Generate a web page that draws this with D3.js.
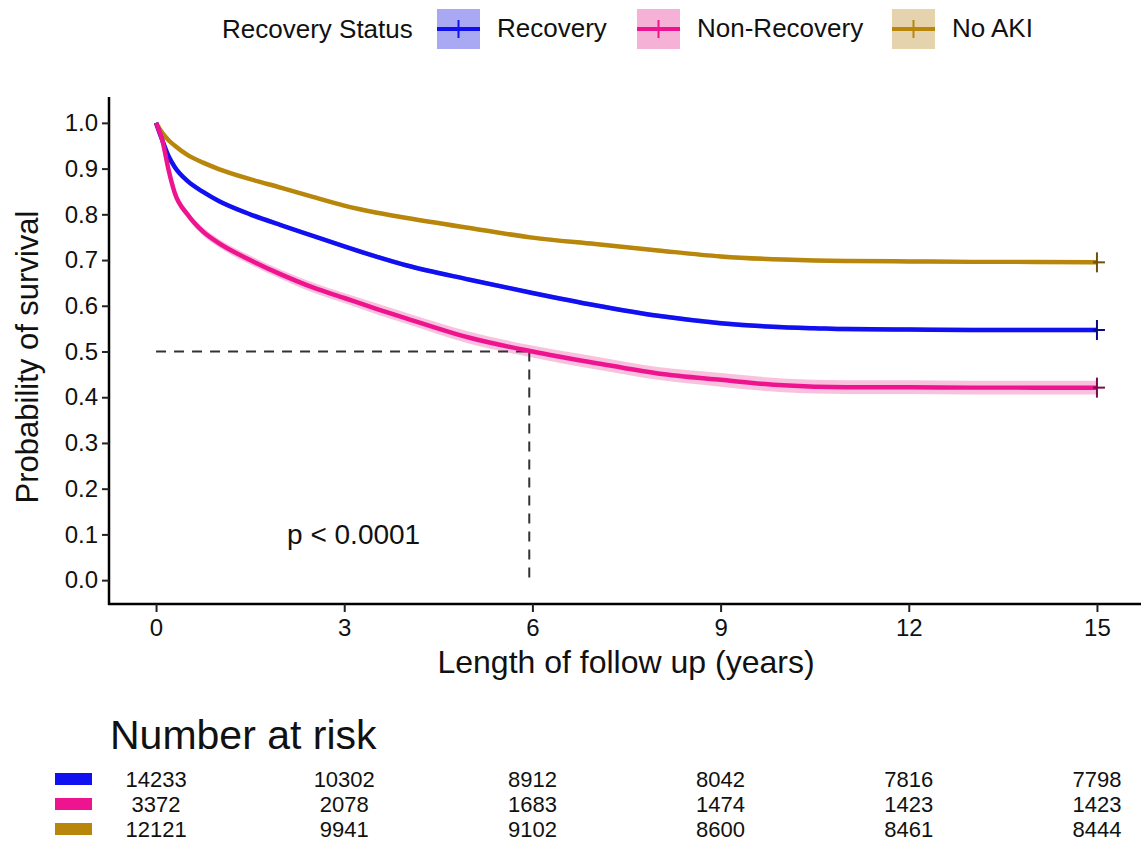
<!DOCTYPE html>
<html>
<head>
<meta charset="utf-8">
<script src="https://cdn.jsdelivr.net/npm/d3@7"></script>
<style>
  body { margin: 0; background: #fff; }
  text { font-family: "Liberation Sans", Arial, sans-serif; fill: #111; }
</style>
</head>
<body>
<script>
// follow-up times (years) and survival estimates
var times = [0, 0.1, 0.2, 0.3, 0.5, 0.75, 1, 1.5, 2, 2.5, 3, 3.5, 4, 5, 6, 7, 8, 9, 10, 10.5, 11, 12, 13, 14, 15];
var survRecovery    = [1.0, 0.962, 0.927, 0.903, 0.873, 0.849, 0.829, 0.800, 0.776, 0.753, 0.730, 0.708, 0.688, 0.657, 0.628, 0.601, 0.578, 0.562, 0.553, 0.551, 0.549, 0.548, 0.547, 0.547, 0.547];
var survNonRecovery = [1.0, 0.962, 0.897, 0.846, 0.800, 0.762, 0.737, 0.700, 0.668, 0.640, 0.617, 0.594, 0.572, 0.530, 0.500, 0.475, 0.452, 0.438, 0.426, 0.423, 0.422, 0.422, 0.421, 0.421, 0.421];
var survNoAKI       = [1.0, 0.978, 0.962, 0.950, 0.930, 0.913, 0.899, 0.877, 0.858, 0.838, 0.819, 0.804, 0.792, 0.770, 0.749, 0.735, 0.721, 0.708, 0.701, 0.699, 0.698, 0.697, 0.696, 0.696, 0.695];
// half width of the confidence bands
var ciRecovery    = [0, 0.002, 0.003, 0.003, 0.003, 0.004, 0.004, 0.004, 0.004, 0.004, 0.005, 0.005, 0.005, 0.005, 0.005, 0.005, 0.005, 0.005, 0.005, 0.005, 0.005, 0.005, 0.005, 0.005, 0.005];
var ciNonRecovery = [0, 0.004, 0.006, 0.007, 0.008, 0.009, 0.009, 0.010, 0.010, 0.011, 0.011, 0.012, 0.012, 0.013, 0.013, 0.014, 0.014, 0.015, 0.015, 0.015, 0.015, 0.015, 0.015, 0.015, 0.015];
var ciNoAKI       = [0, 0.002, 0.002, 0.003, 0.003, 0.003, 0.003, 0.003, 0.004, 0.004, 0.004, 0.004, 0.004, 0.004, 0.004, 0.004, 0.004, 0.004, 0.004, 0.004, 0.004, 0.004, 0.004, 0.004, 0.004];

var groups = ["Recovery", "Non-Recovery", "No AKI"];
var lineColors = ["#1010f0", "#ee1490", "#b8860b"];
var bandColors = ["#a9a9f3", "#f6b1d6", "#e4d3ac"];
var crossColors = ["#0a0a80", "#7a0a48", "#6e5208"];

var xTicks = [0, 3, 6, 9, 12, 15];
var yTicks = [0, 0.1, 0.2, 0.3, 0.4, 0.5, 0.6, 0.7, 0.8, 0.9, 1.0];

var riskTimes = [0, 3, 6, 9, 12, 15];
var riskRecovery    = [14233, 10302, 8912, 8042, 7816, 7798];
var riskNonRecovery = [3372, 2078, 1683, 1474, 1423, 1423];
var riskNoAKI       = [12121, 9941, 9102, 8600, 8461, 8444];

var medianTime = 5.95, medianSurv = 0.5;
var pText = "p < 0.0001";

var width = 1144, height = 867;

var svg = d3.select("body").append("svg")
    .attr("width", width)
    .attr("height", height);

var x = d3.scaleLinear().domain([-0.75, 15.75]).range([109, 1144]);
var y = d3.scaleLinear().domain([-0.05, 1.05]).range([603, 100]);

var series = [
    {name: groups[0], surv: survRecovery, ci: ciRecovery},
    {name: groups[1], surv: survNonRecovery, ci: ciNonRecovery},
    {name: groups[2], surv: survNoAKI, ci: ciNoAKI}
];

// confidence bands
var area = d3.area()
    .x(function (d) { return x(d.t); })
    .y0(function (d) { return y(d.s - d.c); })
    .y1(function (d) { return y(d.s + d.c); })
    .curve(d3.curveMonotoneX);

var line = d3.line()
    .x(function (d) { return x(d.t); })
    .y(function (d) { return y(d.s); })
    .curve(d3.curveMonotoneX);

series.forEach(function (s, i) {
    var pts = times.map(function (t, j) { return {t: t, s: s.surv[j], c: s.ci[j]}; });
    svg.append("path")
        .datum(pts)
        .attr("d", area)
        .attr("fill", bandColors[i])
        .attr("opacity", 0.8);
});

// median dashed lines
svg.append("line")
    .attr("x1", x(0)).attr("x2", x(medianTime))
    .attr("y1", y(medianSurv)).attr("y2", y(medianSurv))
    .attr("stroke", "#333").attr("stroke-width", 2).attr("stroke-dasharray", "10,8");
svg.append("line")
    .attr("x1", x(medianTime)).attr("x2", x(medianTime))
    .attr("y1", y(medianSurv)).attr("y2", y(0))
    .attr("stroke", "#333").attr("stroke-width", 2).attr("stroke-dasharray", "10,8");

// survival curves (gold first so blue/pink sit on top)
[2, 0, 1].forEach(function (i) {
    var s = series[i];
    var pts = times.map(function (t, j) { return {t: t, s: s.surv[j]}; });
    svg.append("path")
        .datum(pts)
        .attr("d", line)
        .attr("fill", "none")
        .attr("stroke", lineColors[i])
        .attr("stroke-width", 4.5);
    // censor mark at the last time
    var last = pts[pts.length - 1];
    svg.append("line")
        .attr("x1", x(last.t)).attr("x2", x(last.t))
        .attr("y1", y(last.s) - 10).attr("y2", y(last.s) + 10)
        .attr("stroke", crossColors[i]).attr("stroke-width", 2);
    svg.append("line")
        .attr("x1", x(last.t) - 4).attr("x2", x(last.t) + 8)
        .attr("y1", y(last.s)).attr("y2", y(last.s))
        .attr("stroke", crossColors[i]).attr("stroke-width", 2);
});

// axes
var yAxis = d3.axisLeft(y).tickValues(yTicks).tickFormat(d3.format(".1f"))
    .tickSize(7).tickSizeOuter(0).tickPadding(4);
var xAxis = d3.axisBottom(x).tickValues(xTicks).tickFormat(d3.format("d"))
    .tickSize(8).tickSizeOuter(0).tickPadding(7);

var gy = svg.append("g").attr("transform", "translate(109,0)").call(yAxis);
var gx = svg.append("g").attr("transform", "translate(0,604)").call(xAxis);

[gx, gy].forEach(function (g) {
    g.select(".domain").attr("stroke", "#000").attr("stroke-width", 2.5);
    g.selectAll(".tick line").attr("stroke", "#222").attr("stroke-width", 2);
    g.selectAll(".tick text")
        .style("font-family", "'Liberation Sans', Arial, sans-serif")
        .style("font-size", "24px")
        .attr("fill", "#222");
});
gy.select(".domain").attr("d", "M0,97V605");
gx.select(".domain").attr("d", "M108,0H1141");

// axis titles
svg.append("text")
    .attr("transform", "translate(38,357) rotate(-90)")
    .attr("text-anchor", "middle")
    .style("font-size", "31px")
    .text("Probability of survival");

svg.append("text")
    .attr("x", 626).attr("y", 673)
    .attr("text-anchor", "middle")
    .style("font-size", "32px")
    .text("Length of follow up (years)");

// p-value
svg.append("text")
    .attr("x", x(3.15)).attr("y", y(0.1))
    .attr("dy", "0.35em")
    .attr("text-anchor", "middle")
    .style("font-size", "28px")
    .text(pText);

// legend
svg.append("text")
    .attr("x", 222).attr("y", 38)
    .style("font-size", "26px")
    .text("Recovery Status");

var legendBoxX = [437, 637, 892];
groups.forEach(function (g, i) {
    var bx = legendBoxX[i];
    svg.append("rect")
        .attr("x", bx).attr("y", 9).attr("width", 43).attr("height", 40)
        .attr("fill", bandColors[i]);
    svg.append("line")
        .attr("x1", bx).attr("x2", bx + 43).attr("y1", 29).attr("y2", 29)
        .attr("stroke", lineColors[i]).attr("stroke-width", 4);
    svg.append("line")
        .attr("x1", bx + 21.5).attr("x2", bx + 21.5).attr("y1", 20).attr("y2", 38)
        .attr("stroke", lineColors[i]).attr("stroke-width", 2);
    svg.append("text")
        .attr("x", bx + 60).attr("y", 37)
        .style("font-size", "26px")
        .text(g);
});

// risk table
svg.append("text")
    .attr("x", 110).attr("y", 749)
    .style("font-size", "41px")
    .text("Number at risk");

var riskRows = [riskRecovery, riskNonRecovery, riskNoAKI];
var rowCenters = [779, 804, 829];
riskRows.forEach(function (row, i) {
    svg.append("rect")
        .attr("x", 55).attr("y", rowCenters[i] - 6).attr("width", 37).attr("height", 12)
        .attr("fill", lineColors[i]);
    svg.selectAll(null)
        .data(row)
        .enter().append("text")
        .attr("x", function (d, j) { return x(riskTimes[j]); })
        .attr("y", rowCenters[i])
        .attr("dy", "0.36em")
        .attr("text-anchor", "middle")
        .style("font-size", "22px")
        .text(function (d) { return d; });
});
</script>
</body>
</html>
